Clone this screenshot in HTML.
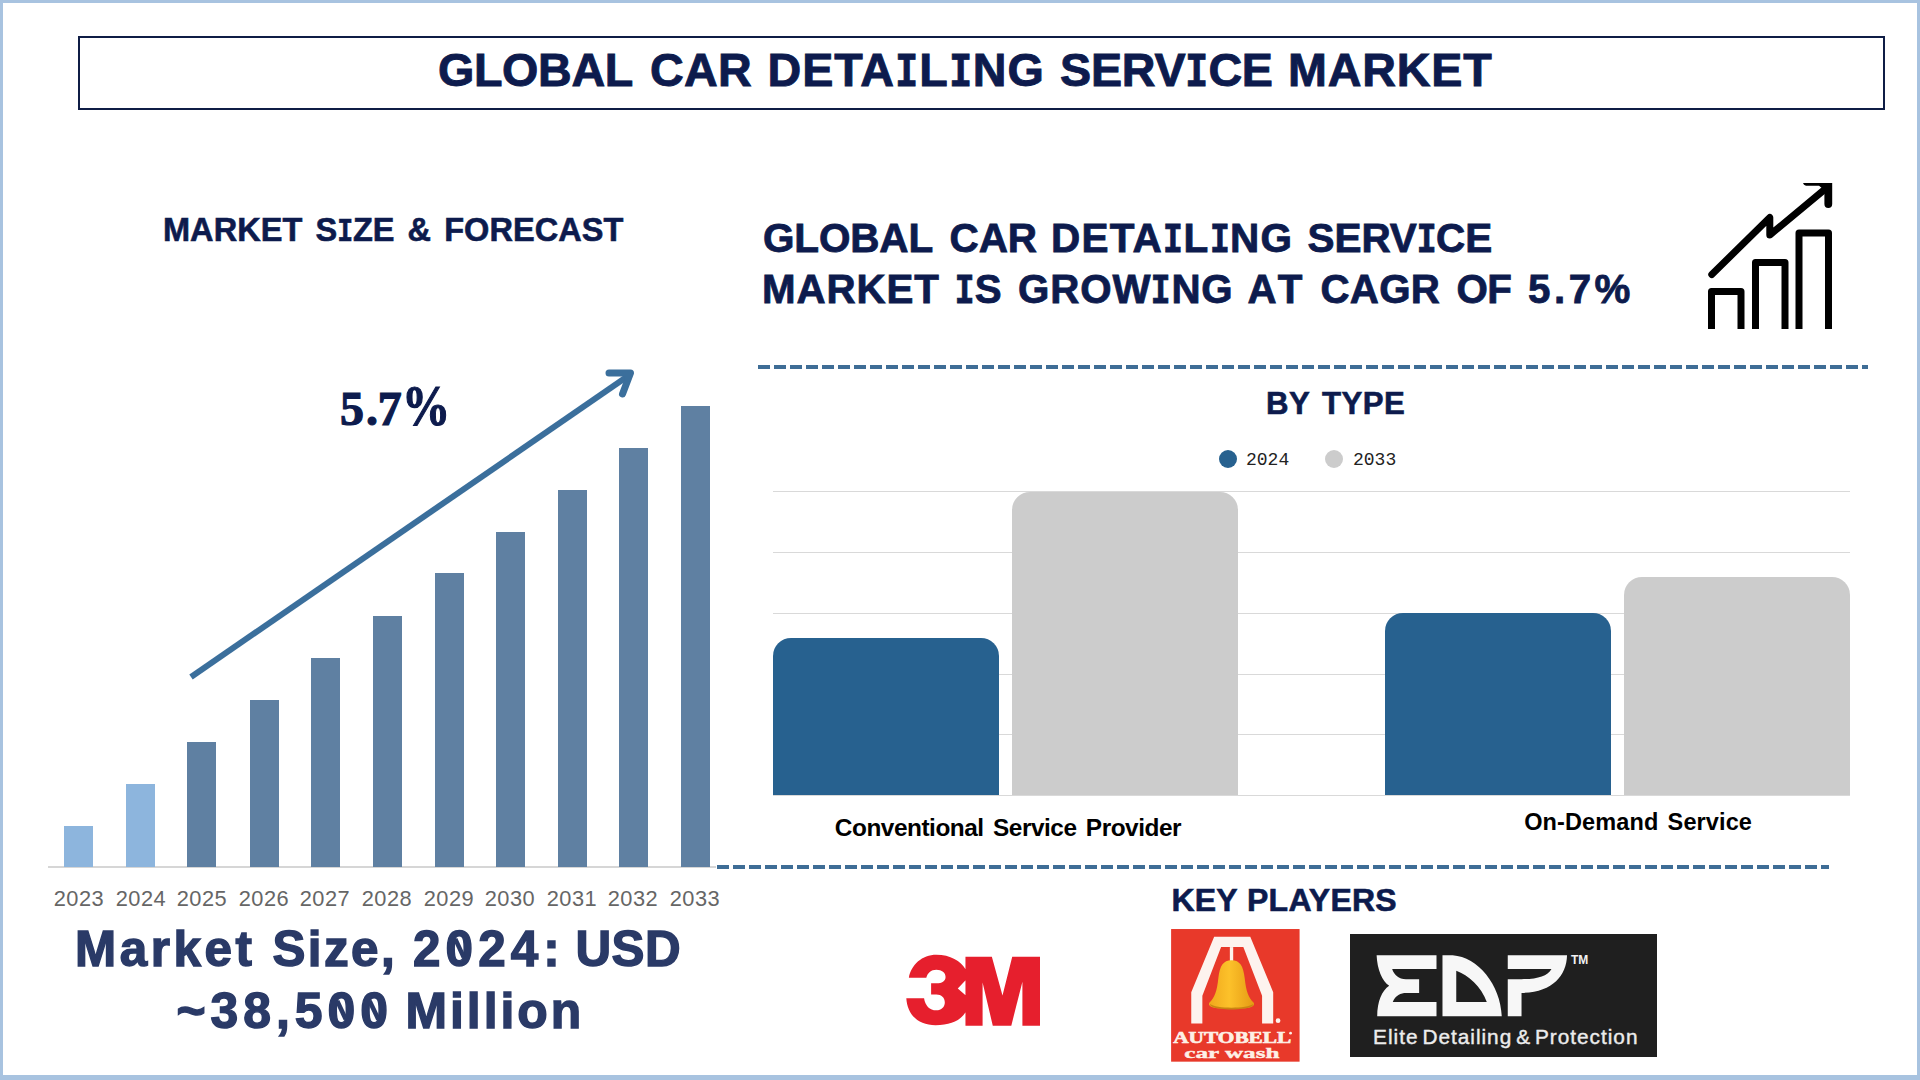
<!DOCTYPE html>
<html><head><meta charset="utf-8">
<style>
html,body{margin:0;padding:0;}
body{width:1920px;height:1080px;position:relative;overflow:hidden;background:#fff;font-family:"Liberation Sans",sans-serif;}
.abs{position:absolute;}
.frame{left:0;top:0;width:1920px;height:1080px;box-sizing:border-box;border-style:solid;border-color:#a8c3e0;border-width:3px 3px 5px 3px;}
.titlebox{left:78px;top:36px;width:1807px;height:74px;box-sizing:border-box;border:2px solid #0f1d45;}
.t{white-space:nowrap;line-height:1;}
.navy{color:#0d1b4d;}
.bar{position:absolute;width:29px;bottom:213px;background:#5f80a2;}
.bar.l{background:#8db5dd;}
.yr{position:absolute;top:888px;font-size:21.8px;letter-spacing:0.5px;color:#666;width:62px;text-align:center;}
.grid{position:absolute;left:773px;width:1077px;height:1px;background:#d9d9d9;}
.cb{position:absolute;border-radius:18px 18px 0 0;}
.blue{background:#27618f;}
.gray{background:#cccccc;}
</style></head>
<body>
<div class="abs frame"></div>
<div class="abs titlebox"></div>
<div class="abs t navy" id="title" style="left:0px;top:47.05px;font-size:46.7px;-webkit-text-stroke-width:0.9px;font-weight:bold;"><span id="title_0" style="position:absolute;left:438px;top:0;letter-spacing:-0.36px;">GLOBAL</span><span id="title_1" style="position:absolute;left:650px;top:0;letter-spacing:0.3px;">CAR</span><span id="title_2" style="position:absolute;left:767.5px;top:0;letter-spacing:0.952px;">DETA<span style="font-family:'Liberation Mono',monospace;font-size:1.044em;display:inline-block;transform:scaleX(0.78);margin:0 -3px;">I</span>L<span style="font-family:'Liberation Mono',monospace;font-size:1.044em;display:inline-block;transform:scaleX(0.78);margin:0 -3px;">I</span>NG</span><span id="title_3" style="position:absolute;left:1060px;top:0;letter-spacing:-0.234px;">SERV<span style="font-family:'Liberation Mono',monospace;font-size:1.044em;display:inline-block;transform:scaleX(0.78);margin:0 -3px;">I</span>CE</span><span id="title_4" style="position:absolute;left:1288px;top:0;letter-spacing:0.8px;">MARKET</span></div>

<div class="abs t navy" id="msf" style="-webkit-text-stroke-width:0.6px;left:162.97px;top:214.3px;font-size:32.5px;letter-spacing:0.075px;font-weight:bold;word-spacing:3.932px;">MARKET S<span style="font-family:'Liberation Mono',monospace;font-size:1.044em;display:inline-block;transform:scaleX(0.78);margin:0 -2.4px;">I</span>ZE &amp; FORECAST</div>

<!-- left bar chart -->
<div class="abs" style="left:48px;top:866px;width:668px;height:2px;background:#d6d6d6;"></div>
<div class="bar l" style="left:64px;top:826px;"></div>
<div class="bar l" style="left:126px;top:784px;"></div>
<div class="bar" style="left:187px;top:742px;"></div>
<div class="bar" style="left:249.5px;top:700px;"></div>
<div class="bar" style="left:311px;top:658px;"></div>
<div class="bar" style="left:373px;top:616px;"></div>
<div class="bar" style="left:435px;top:573px;"></div>
<div class="bar" style="left:496px;top:532px;"></div>
<div class="bar" style="left:558px;top:490px;"></div>
<div class="bar" style="left:619px;top:448px;"></div>
<div class="bar" style="left:681px;top:406px;"></div>

<div class="yr t" style="left:48px;">2023</div>
<div class="yr t" style="left:110px;">2024</div>
<div class="yr t" style="left:171px;">2025</div>
<div class="yr t" style="left:233px;">2026</div>
<div class="yr t" style="left:294px;">2027</div>
<div class="yr t" style="left:356px;">2028</div>
<div class="yr t" style="left:418px;">2029</div>
<div class="yr t" style="left:479px;">2030</div>
<div class="yr t" style="left:541px;">2031</div>
<div class="yr t" style="left:602px;">2032</div>
<div class="yr t" style="left:664px;">2033</div>

<svg class="abs" style="left:0;top:0;" width="1920" height="1080">
  <line x1="191" y1="677" x2="628" y2="376" stroke="#3b6f9c" stroke-width="6"/>
  <polyline points="609,373 630.5,373 622.5,394" fill="none" stroke="#3b6f9c" stroke-width="7" stroke-linecap="round" stroke-linejoin="round"/>
</svg>
<div class="abs t navy" id="pct" style="left:340px;top:378px;font-size:48px;letter-spacing:-0.6px;font-weight:bold;font-family:'Liberation Serif',serif;-webkit-text-stroke:1.2px #0d1b4d;">5<span style="margin-left:2.5px;">.</span><span style="margin-left:0.5px;">7</span><span style="display:inline-block;margin-left:1px;font-size:56px;letter-spacing:0;transform:scaleX(0.86);transform-origin:0 0;">%</span></div>

<div class="abs t" id="ms1" style="left:0px;top:923.9px;font-size:49.4px;font-weight:bold;color:#2a3a67;-webkit-text-stroke:1.4px #2a3a67;"><span id="ms1_0" style="position:absolute;left:75px;top:0;letter-spacing:3.56px;">Market</span><span id="ms1_1" style="position:absolute;left:272.5px;top:0;letter-spacing:2.4px;">Size,</span><span id="ms1_2" style="position:absolute;left:413px;top:0;letter-spacing:5.1px;">2024:</span><span id="ms1_3" style="position:absolute;left:575.5px;top:0;letter-spacing:0.4px;">USD</span></div>
<div class="abs t" id="ms2" style="left:0px;top:987.3px;font-size:49.9px;font-weight:bold;color:#2a3a67;-webkit-text-stroke:1.4px #2a3a67;"><span id="ms2_0" style="position:absolute;left:176.5px;top:0;letter-spacing:4.967px;">~38,500</span><span id="ms2_1" style="position:absolute;left:405.5px;top:0;letter-spacing:2.967px;">Million</span></div>

<svg class="abs" style="left:0;top:0;" width="1920" height="1080"><g stroke="#2a3a67" stroke-width="4.6" stroke-linecap="butt"><line x1="455.2" y1="938.9" x2="463.8" y2="957.4"/><line x1="337.2" y1="1000.9" x2="345.8" y2="1019.4"/><line x1="369.6" y1="1000.9" x2="378.4" y2="1019.4"/></g></svg>
<!-- right heading -->
<div class="abs t navy" id="rh1" style="left:0px;top:217.6px;font-size:40.5px;-webkit-text-stroke-width:0.8px;font-weight:bold;"><span id="rh1_0" style="position:absolute;left:763px;top:0;letter-spacing:-0.16px;">GLOBAL</span><span id="rh1_1" style="position:absolute;left:949.5px;top:0;letter-spacing:-0.1px;">CAR</span><span id="rh1_2" style="position:absolute;left:1051px;top:0;letter-spacing:1.198px;">DETA<span style="font-family:'Liberation Mono',monospace;font-size:1.044em;display:inline-block;transform:scaleX(0.78);margin:0 -3px;">I</span>L<span style="font-family:'Liberation Mono',monospace;font-size:1.044em;display:inline-block;transform:scaleX(0.78);margin:0 -3px;">I</span>NG</span><span id="rh1_3" style="position:absolute;left:1307.5px;top:0;letter-spacing:-0.068px;">SERV<span style="font-family:'Liberation Mono',monospace;font-size:1.044em;display:inline-block;transform:scaleX(0.78);margin:0 -3px;">I</span>CE</span></div>
<div class="abs t navy" id="rh2" style="left:0px;top:270px;font-size:40.3px;-webkit-text-stroke-width:0.8px;font-weight:bold;"><span id="rh2_0" style="position:absolute;left:762px;top:0;letter-spacing:0.92px;">MARKET</span><span id="rh2_1" style="position:absolute;left:955px;top:0;letter-spacing:0.4px;"><span style="font-family:'Liberation Mono',monospace;font-size:1.044em;display:inline-block;transform:scaleX(0.78);margin:0 -3px;">I</span>S</span><span id="rh2_2" style="position:absolute;left:1018px;top:0;letter-spacing:0.866px;">GROW<span style="font-family:'Liberation Mono',monospace;font-size:1.044em;display:inline-block;transform:scaleX(0.78);margin:0 -3px;">I</span>NG</span><span id="rh2_3" style="position:absolute;left:1247.5px;top:0;letter-spacing:4.2px;">AT</span><span id="rh2_4" style="position:absolute;left:1320.5px;top:0;letter-spacing:0.268px;">CAGR</span><span id="rh2_5" style="position:absolute;left:1456.5px;top:0;letter-spacing:-0.6px;">OF</span><span id="rh2_6" style="position:absolute;left:1528px;top:0;letter-spacing:3.533px;">5.7%</span></div>

<svg class="abs" style="left:0;top:0;" width="1920" height="1080">
  <g fill="none" stroke="#000" stroke-width="7" stroke-linejoin="round">
    <polyline points="1711.5,329 1711.5,291.5 1741,291.5 1741,329" stroke-linecap="butt"/>
    <polyline points="1755.5,329 1755.5,262.5 1785,262.5 1785,329" stroke-linecap="butt"/>
    <polyline points="1799,329 1799,233 1828.5,233 1828.5,329" stroke-linecap="butt"/>
    <polyline points="1711.8,274.5 1769.8,217.5 1769.8,235 1827.3,187.2" stroke-linecap="round"/>
    </g><path fill="#000" d="M1803,183 L1832.2,183 L1832.2,204 A3.9,3.9 0 0 1 1824.4,204 L1824.4,190 L1819,185.8 L1806,185.8 Q1803.5,185 1803,183 Z"/><g>
  </g>
</svg>

<!-- dashed lines -->
<div class="abs" style="left:758px;top:364.5px;width:1110px;height:4px;background:repeating-linear-gradient(90deg,#3e6d96 0 12px,transparent 12px 16px);"></div>
<div class="abs" style="left:717px;top:864.5px;width:1112px;height:4px;background:repeating-linear-gradient(90deg,#3e6d96 0 12px,transparent 12px 16px);"></div>

<div class="abs t navy" id="bytype" style="-webkit-text-stroke-width:0.6px;left:1266px;top:388px;font-size:31.2px;letter-spacing:0.433px;font-weight:bold;word-spacing:3.4px;">BY TYPE</div>

<!-- legend -->
<div class="abs" style="left:1219px;top:450px;width:18px;height:18px;border-radius:50%;background:#27618f;"></div>
<div class="abs t" id="lg1" style="left:1246px;top:451px;font-size:18px;font-family:'Liberation Mono',monospace;color:#222;">2024</div>
<div class="abs" style="left:1325px;top:450px;width:18px;height:18px;border-radius:50%;background:#cccccc;"></div>
<div class="abs t" id="lg2" style="left:1353px;top:451px;font-size:18px;font-family:'Liberation Mono',monospace;color:#222;">2033</div>

<!-- grouped chart -->
<div class="grid" style="top:491px;"></div>
<div class="grid" style="top:552px;"></div>
<div class="grid" style="top:613px;"></div>
<div class="grid" style="top:674px;"></div>
<div class="grid" style="top:734px;"></div>
<div class="grid" style="top:795px;"></div>
<div class="cb blue" style="left:773px;top:638px;width:226px;height:157px;"></div>
<div class="cb gray" style="left:1012px;top:491.5px;width:226px;height:303.5px;"></div>
<div class="cb blue" style="left:1385px;top:613px;width:226px;height:182px;"></div>
<div class="cb gray" style="left:1624px;top:577px;width:226px;height:218px;"></div>

<div class="abs t" id="cl1" style="left:834.87px;top:815.9px;font-size:24.4px;letter-spacing:-0.472px;font-weight:bold;color:#000;word-spacing:3.035px;">Conventional Service Provider</div>
<div class="abs t" id="cl2" style="left:1524.2px;top:810.6px;font-size:23.5px;letter-spacing:0.116px;font-weight:bold;color:#000;word-spacing:2.534px;">On-Demand Service</div>

<div class="abs t navy" id="kp" style="-webkit-text-stroke-width:0.6px;left:1171.4px;top:884.1px;font-size:32px;letter-spacing:0.25px;font-weight:bold;word-spacing:0.5px;">KEY PLAYERS</div>

<!-- 3M logo -->
<svg class="abs" style="left:890px;top:940px;" width="170" height="100" viewBox="0 0 1836 1080">
  <path fill="#e61f2d" d="M204,408 C228,268 348,160 500,160 C652,160 764,228 816,316 L816,436 L732,524 L816,596 L816,780 C764,868 652,920 492,920 C308,920 188,812 176,628 L368,628 C380,708 428,760 500,760 C556,760 592,724 592,676 C592,620 556,588 500,588 L444,588 L444,468 L504,468 C560,468 600,444 600,400 C600,352 560,320 500,320 C444,320 404,356 392,408 Z M815,180 L1100,180 L1215,600 L1320,180 L1620,180 L1620,925 L1430,925 L1430,450 L1310,925 L1110,925 L1000,460 L1000,925 L815,925 Z"/>
</svg>

<!-- Autobell logo -->
<svg class="abs" style="left:1160px;top:920px;" width="160" height="150" viewBox="0 0 1152 1080">
  <defs>
    <linearGradient id="bellg" x1="0" y1="0" x2="1" y2="0">
      <stop offset="0" stop-color="#f0a81c"/>
      <stop offset="0.45" stop-color="#fcc12a"/>
      <stop offset="1" stop-color="#e59a14"/>
    </linearGradient>
  </defs>
  <rect x="80" y="65" width="925" height="955" fill="#e8392a"/>
  <polygon fill="#fdf3ee" points="390,120 650,120 815,520 815,745 735,745 735,545 600,195 440,195 305,545 305,745 225,745 225,520"/>
  <rect x="503" y="195" width="24" height="110" fill="#fdf3ee"/>
  <path fill="url(#bellg)" d="M515,290 C455,290 430,330 420,420 C410,510 395,560 355,595 C345,615 365,630 420,635 L610,635 C665,630 685,615 675,595 C635,560 620,510 610,420 C600,330 575,290 515,290 Z"/>
  <path fill="#c98512" d="M360,605 C400,640 630,640 672,605 C670,625 640,640 515,645 C390,640 362,625 360,605 Z"/>
  <circle cx="850" cy="725" r="17" fill="#fdf3ee"/>
  <text x="95" y="885" textLength="850" lengthAdjust="spacingAndGlyphs" font-family="Liberation Serif" font-weight="bold" font-size="125" fill="#fdf0e6" stroke="#fdf0e6" stroke-width="5">AUTOBELL</text>
  <circle cx="940" cy="815" r="10" fill="#fdf0e6"/>
  <text x="175" y="992" textLength="685" lengthAdjust="spacingAndGlyphs" font-family="Liberation Serif" font-weight="bold" font-size="112" stroke="#fdf0e6" stroke-width="3" fill="#fdf0e6">car wash</text>
</svg>

<!-- EDP logo -->
<div class="abs" style="left:1350px;top:934px;width:307px;height:123px;background:#1f1f1f;"></div>
<svg class="abs" style="left:1370px;top:945px;" width="230" height="80" viewBox="0 0 1920 668">
  <g fill="#f7f7f7">
    <path d="M55,85 H555 V200 H185 C200,250 240,285 300,285 H410 V400 H300 C260,400 210,420 190,475 H555 V595 H60 C60,470 100,380 160,340 C100,300 60,200 55,85 Z"/>
    <path fill-rule="evenodd" d="M605,85 H690 C900,100 1090,330 1100,595 H605 Z M720,215 C820,250 930,350 975,475 H720 Z"/>
    <path d="M1150,85 H1645 C1640,260 1520,395 1265,400 V595 H1150 V285 H1265 C1400,285 1480,260 1515,200 H1150 Z"/>
  </g>
</svg>
<div class="abs t" style="left:1571px;top:954px;font-size:12px;font-weight:bold;color:#f2f2f2;">TM</div>
<div class="abs t" id="edpt" style="left:1373.11px;top:1027px;font-size:20.8px;letter-spacing:0.981px;color:#ececec;-webkit-text-stroke:0.4px #ececec;word-spacing:-2.783px;">Elite Detailing &amp; Protection</div>

</body></html>
